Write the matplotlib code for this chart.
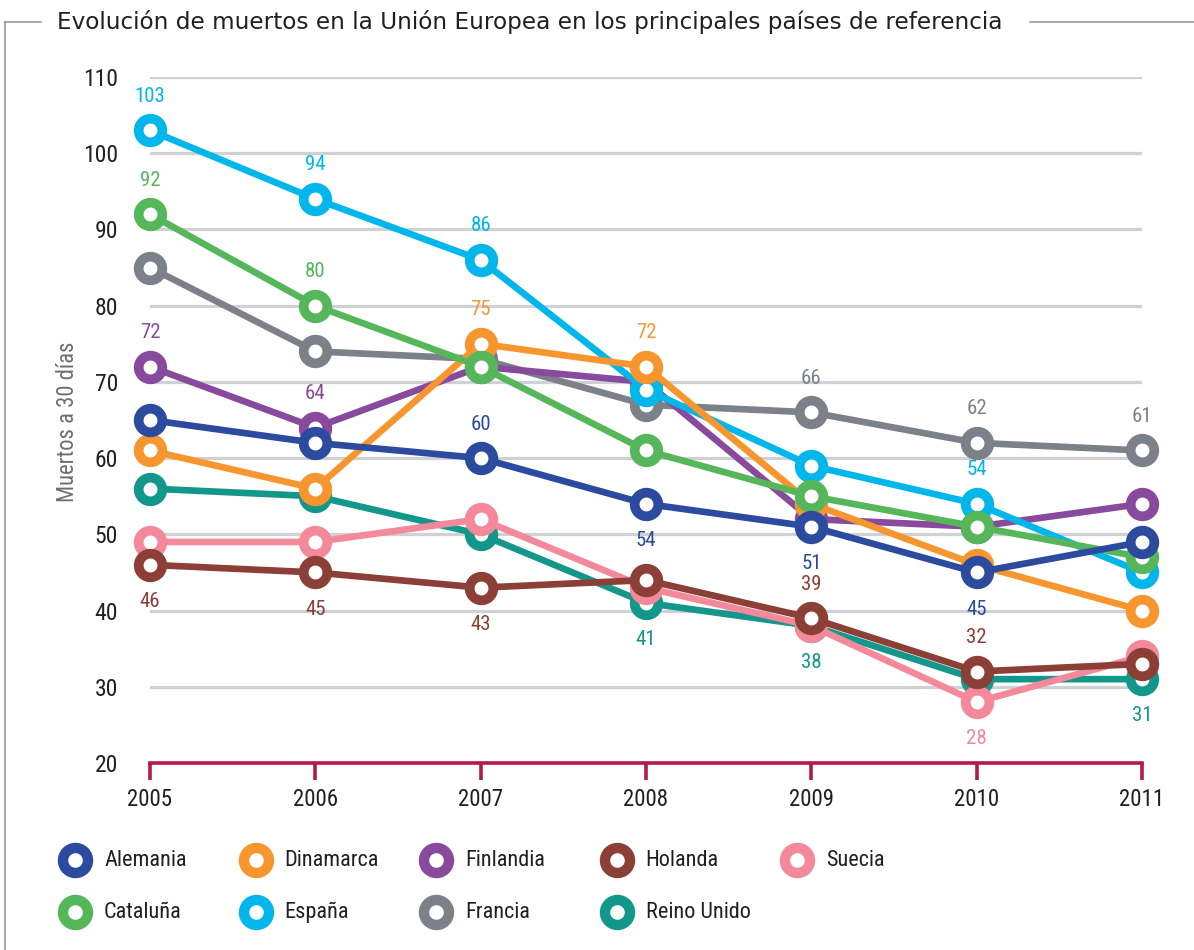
import matplotlib
matplotlib.use('Agg')
import matplotlib.pyplot as plt
from matplotlib.lines import Line2D

years = [2005, 2006, 2007, 2008, 2009, 2010, 2011]

# series drawn in this order (later ones on top)
names = ['Francia', 'Reino Unido', 'Suecia', 'Holanda', 'Finlandia',
         'España', 'Dinamarca', 'Cataluña', 'Alemania']
francia = [85, 74, 73, 67, 66, 62, 61]
reino_unido = [56, 55, 50, 41, 38, 31, 31]
suecia = [49, 49, 52, 43, 38, 28, 34]
holanda = [46, 45, 43, 44, 39, 32, 33]
finlandia = [72, 64, 72, 70, 52, 51, 54]
espana = [103, 94, 86, 69, 59, 54, 45]
dinamarca = [61, 56, 75, 72, 54, 46, 40]
cataluna = [92, 80, 72, 61, 55, 51, 47]
alemania = [65, 62, 60, 54, 51, 45, 49]
values = [francia, reino_unido, suecia, holanda, finlandia,
          espana, dinamarca, cataluna, alemania]
colors = ['#7c8089', '#14978b', '#f3899a', '#8b3f37', '#874a9c',
          '#00b6ea', '#f7962f', '#55b75a', '#2c4a9e']

# which values carry a label: (serie, year, above/below)
labels = [
    ('España', 2005, 1), ('Cataluña', 2005, 1), ('Finlandia', 2005, 1), ('Holanda', 2005, -1),
    ('España', 2006, 1), ('Cataluña', 2006, 1), ('Finlandia', 2006, 1), ('Holanda', 2006, -1),
    ('España', 2007, 1), ('Dinamarca', 2007, 1), ('Alemania', 2007, 1), ('Holanda', 2007, -1),
    ('Dinamarca', 2008, 1), ('Alemania', 2008, -1), ('Reino Unido', 2008, -1),
    ('Francia', 2009, 1), ('Alemania', 2009, -1), ('Holanda', 2009, 1), ('Reino Unido', 2009, -1),
    ('Francia', 2010, 1), ('España', 2010, 1), ('Alemania', 2010, -1), ('Holanda', 2010, 1),
    ('Suecia', 2010, -1),
    ('Francia', 2011, 1), ('Reino Unido', 2011, -1),
]

legend_order = ['Alemania', 'Dinamarca', 'Finlandia', 'Holanda', 'Suecia',
                'Cataluña', 'España', 'Francia', 'Reino Unido']

cond = ['Roboto Condensed', 'DejaVu Sans']
dark = '#231f20'
crimson = '#b5184a'

fig = plt.figure(figsize=(11.94, 9.5), dpi=100)
W, H = 1194, 950
ax = fig.add_axes([150 / W, 1 - 763 / H, (1142 - 150) / W, (763 - 77) / H])

for name, vals, c in zip(names, values, colors):
    ax.plot(years, vals, color=c, lw=4.8, marker='o', ms=17, mew=7,
            mfc='white', mec=c, clip_on=False, solid_capstyle='round')

for name, yr, side in labels:
    i = names.index(name)
    v = values[i][years.index(yr)]
    off = 24.5 if side > 0 else -26.5
    ax.annotate(str(v), (yr, v), xytext=(0, off), textcoords='offset points',
                ha='center', va='center', color=colors[i], fontsize=15,
                family=cond)

ax.set_xlim(2005, 2011)
ax.set_ylim(20, 110)
ax.set_yticks(range(20, 111, 10))
ax.set_xticks(years)
ax.yaxis.grid(True, color='#cfd1d4', lw=2.3)
ax.set_axisbelow(True)
for s in ['top', 'right', 'left']:
    ax.spines[s].set_visible(False)
ax.spines['bottom'].set_color(crimson)
ax.spines['bottom'].set_linewidth(2.6)
ax.tick_params(axis='y', length=0, pad=23, labelsize=17, labelcolor=dark)
ax.tick_params(axis='x', length=12, width=2.6, color=crimson, pad=6,
               labelsize=16.5, labelcolor=dark)
for t in ax.get_xticklabels() + ax.get_yticklabels():
    t.set_family(cond)

fig.text(67 / W, 1 - 422 / H, 'Muertos a 30 días', rotation=90, ha='center',
         va='center', fontsize=16.3, color='#6d6e71', family=cond)

# title and frame
fig.text(57 / W, 1 - 22 / H, 'Evolución de muertos en la Unión Europea en los principales países de referencia',
         ha='left', va='center', fontsize=16.7, color=dark, family=['DejaVu Sans'])
frame = dict(color='#8d8f92', lw=1.1, transform=fig.transFigure)
fig.add_artist(Line2D([5 / W, 5 / W], [1 - 22 / H, 0], **frame))
fig.add_artist(Line2D([5 / W, 41 / W], [1 - 22 / H, 1 - 22 / H], **frame))
fig.add_artist(Line2D([1030 / W, 1], [1 - 22 / H, 1 - 22 / H], **frame))

# legend in two rows
lax = fig.add_axes([0, 0, 1, 1], facecolor='none')
lax.set_xlim(0, W)
lax.set_ylim(H, 0)
lax.axis('off')
for k, name in enumerate(legend_order):
    c = colors[names.index(name)]
    col, row = k % 5, k // 5
    x0 = 75 + col * 180.5
    y0 = 860 + row * 52
    lax.plot([x0], [y0], marker='o', ms=18, mew=7.5, mfc='white', mec=c)
    lax.text(x0 + 29, y0, name, ha='left', va='center', fontsize=16,
             color=dark, family=cond)

fig.savefig('out.png', dpi=100)
